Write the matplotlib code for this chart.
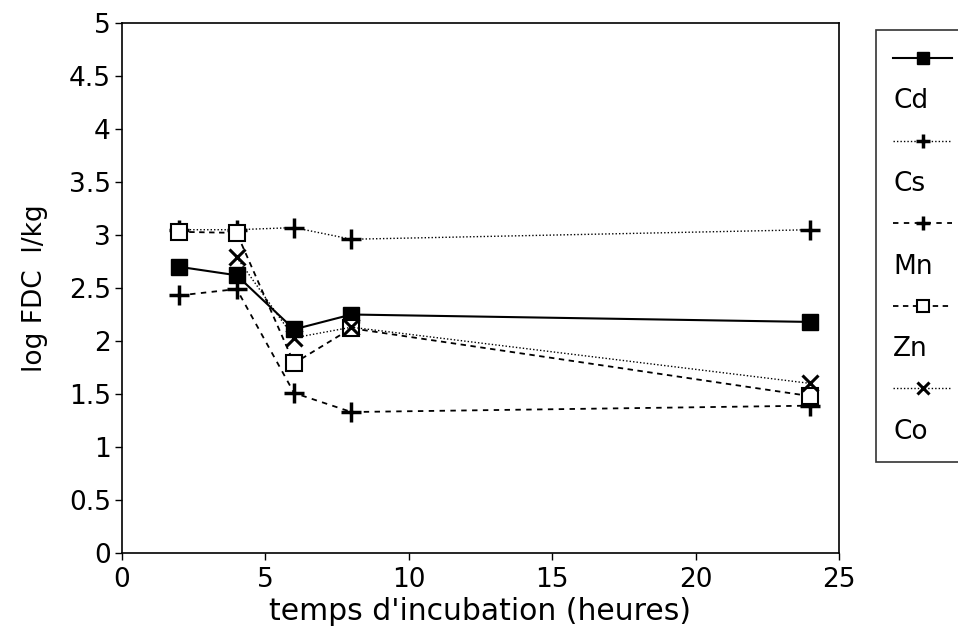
import matplotlib
matplotlib.use("Agg")
import matplotlib.pyplot as plt
from matplotlib.lines import Line2D
from matplotlib.ticker import FuncFormatter, MultipleLocator

plt.rcParams['font.family'] = ['DejaVu Sans']

# temps d'incubation (heures)
hours = [2, 4, 6, 8, 24]
hours_co = [4, 6, 8, 24]

# log FDC l/kg
cd = [2.70, 2.62, 2.11, 2.25, 2.18]
cs = [3.05, 3.05, 3.07, 2.96, 3.05]
mn = [2.43, 2.49, 1.51, 1.33, 1.39]
zn = [3.03, 3.02, 1.79, 2.12, 1.48]
co = [2.79, 2.03, 2.13, 1.60]

fig = plt.figure(figsize=(9.58, 6.36), dpi=100)
ax = fig.add_axes([0.1273, 0.1305, 0.7485, 0.8333])

l_cd, = ax.plot(hours, cd, color='black', lw=1.5, ls='-',
                marker='s', ms=11, mfc='black', mec='black')
l_cs, = ax.plot(hours, cs, color='black', lw=1.0, ls=(0, (1, 1.5)),
                marker='+', ms=14, mew=2.5)
l_mn, = ax.plot(hours, mn, color='black', lw=1.3, ls=(0, (3, 3)),
                marker='+', ms=14, mew=2.5)
l_zn, = ax.plot(hours, zn, color='black', lw=1.3, ls=(0, (3, 2.5)),
                marker='s', ms=11, mfc='white', mec='black', mew=1.5)
l_co, = ax.plot(hours_co, co, color='black', lw=1.0, ls=(0, (1, 1.5)),
                marker='x', ms=12, mew=2.2)

ax.set_xlim(0, 25)
ax.set_ylim(0, 5)
ax.xaxis.set_major_locator(MultipleLocator(5))
ax.yaxis.set_major_locator(MultipleLocator(0.5))
ax.yaxis.set_major_formatter(FuncFormatter(lambda v, p: '%g' % v))
ax.tick_params(direction='out', length=5, width=1, labelsize=19, pad=3)
ax.tick_params(axis='x', pad=5)
for s in ax.spines.values():
    s.set_linewidth(1.2)

ax.set_xlabel("temps d'incubation (heures)", fontsize=21.5, labelpad=3)
ax.set_ylabel("log FDC  l/kg", fontsize=19, labelpad=15)

# legend: marker row, then name row underneath
blank = Line2D([], [], ls='none')
handles, labels = [], []
for line, name in [(l_cd, 'Cd'), (l_cs, 'Cs'), (l_mn, 'Mn'), (l_zn, 'Zn'), (l_co, 'Co')]:
    handles += [line, blank]
    labels += [' ' * 12, name]

leg = fig.legend(handles, labels, loc='upper left',
                 bbox_to_anchor=(876 / 958, 1 - 30 / 636),
                 fontsize=19, handlelength=2.23, handletextpad=-2.23,
                 labelspacing=0.58, borderpad=0.65, borderaxespad=0,
                 numpoints=1, markerscale=0.75, fancybox=False,
                 frameon=True, edgecolor='black')
leg.get_frame().set_linewidth(1.2)

fig.savefig('out.png', dpi=100)
